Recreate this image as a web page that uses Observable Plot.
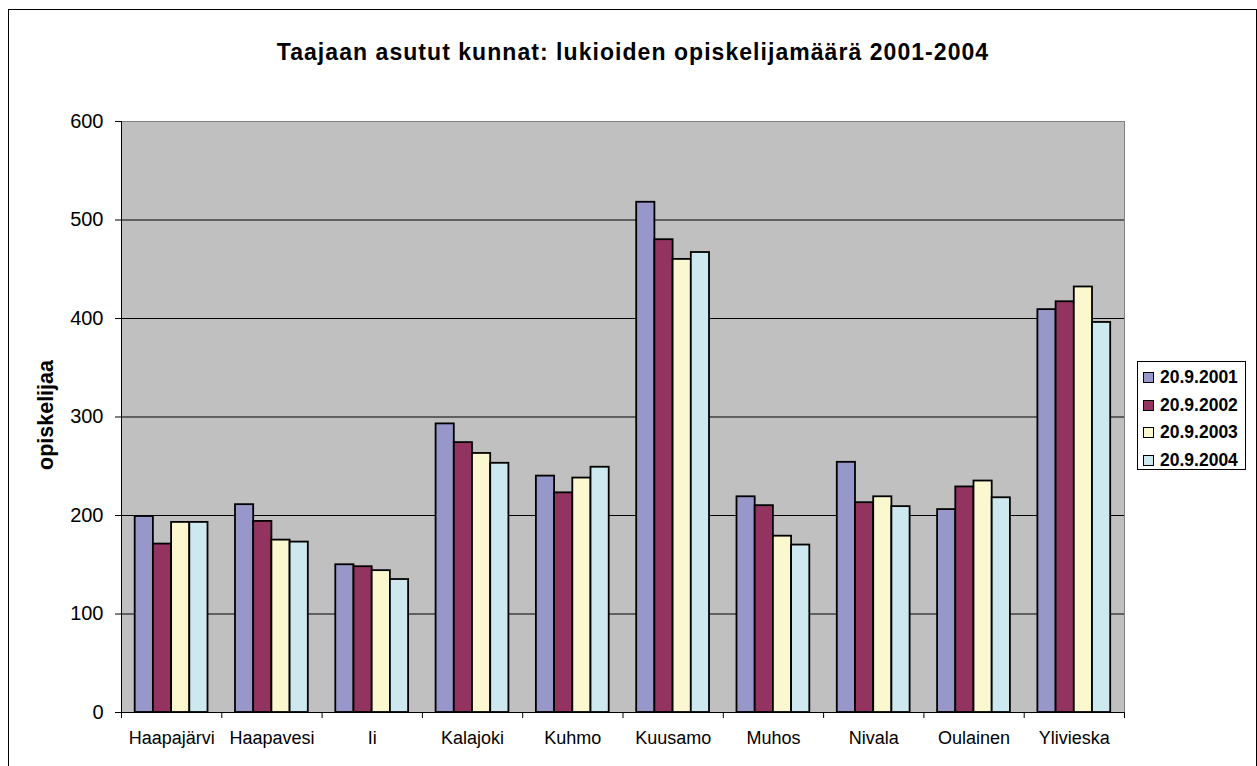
<!DOCTYPE html>
<html>
<head>
<meta charset="utf-8">
<script src="https://cdn.jsdelivr.net/npm/d3@7"></script>
<script src="https://cdn.jsdelivr.net/npm/@observablehq/plot@0.6"></script>
<style>
html, body { margin: 0; padding: 0; overflow: hidden; background: #fff; width: 1257px; height: 766px; }
body { font-family: "Liberation Sans", Arial, sans-serif; position: relative; }
#border { position: absolute; left: 8px; top: 9px; width: 1249px; height: 800px; border: 1px solid #000; box-sizing: border-box; }
#chart { position: absolute; left: 0; top: 0; }
#title { position: absolute; left: 0; width: 1266px; top: 41px; text-align: center; font-weight: bold; font-size: 23px; letter-spacing: 1.05px; line-height: 23px; color: #000; white-space: nowrap; }
#ylabel { position: absolute; left: 46px; top: 415px; transform: translate(-50%, -50%) rotate(-90deg); font-weight: bold; font-size: 21.5px; line-height: 21px; white-space: nowrap; }
#legend { position: absolute; left: 1137px; top: 361px; width: 109px; height: 109px; border: 1px solid #000; box-sizing: border-box; background: #fff; padding-top: 2px; }
.row { height: 27.5px; display: flex; align-items: center; padding-left: 5px; font-weight: bold; font-size: 17.5px; }
.sw { width: 9px; height: 9px; border: 1px solid #000; margin-right: 6px; flex: none; }
</style>
</head>
<body>
<div id="border"></div>
<div id="chart"></div>
<div id="title">Taajaan asutut kunnat: lukioiden opiskelijamäärä 2001-2004</div>
<div id="ylabel">opiskelijaa</div>
<div id="legend"></div>
<script>
const municipalities = ["Haapajärvi", "Haapavesi", "Ii", "Kalajoki", "Kuhmo", "Kuusamo", "Muhos", "Nivala", "Oulainen", "Ylivieska"];
const years = ["20.9.2001", "20.9.2002", "20.9.2003", "20.9.2004"];
const v2001 = [199, 211, 150, 293, 240, 518, 219, 254, 206, 409];
const v2002 = [171, 194, 148, 274, 223, 480, 210, 213, 229, 417];
const v2003 = [193, 175, 144, 263, 238, 460, 179, 219, 235, 432];
const v2004 = [193, 173, 135, 253, 249, 467, 170, 209, 218, 396];
const yTicks = [0, 100, 200, 300, 400, 500, 600];
const colors = ["#9797c9", "#933360", "#fbf8d0", "#cde8ee"];

const series = [v2001, v2002, v2003, v2004];
const rows = [];
series.forEach((vals, s) => vals.forEach((v, i) => rows.push({municipality: municipalities[i], idx: i, s, year: years[s], value: v})));

const groupOffset = 0.1365, barW = 0.1815;

const chart = Plot.plot({
  width: 1257,
  height: 766,
  marginLeft: 121,
  marginRight: 133,
  marginTop: 121,
  marginBottom: 54,
  style: {fontFamily: "Liberation Sans, Arial, sans-serif", background: "transparent", color: "#000"},
  x: {type: "linear", domain: [0, municipalities.length]},
  y: {domain: [0, 600]},
  color: {domain: years, range: colors},
  marks: [
    Plot.frame({fill: "#c0c0c0", stroke: "#808080"}),
    Plot.ruleY(yTicks.filter(t => t > 0 && t < 600), {stroke: "#000", strokeWidth: 1}),
    Plot.rectY(rows, {
      x1: d => d.idx + groupOffset + d.s * barW,
      x2: d => d.idx + groupOffset + (d.s + 1) * barW,
      y1: 0,
      y2: "value",
      fill: "year",
      stroke: "#000",
      strokeWidth: 1.8
    }),
    Plot.ruleX([0], {stroke: "#000"}),
    Plot.ruleY([0], {stroke: "#000"}),
    Plot.axisY({ticks: yTicks, tickSize: 6, tickPadding: 12, fontSize: 20, label: null, tickFormat: d => String(d)}),
    Plot.axisX({ticks: d3.range(0, municipalities.length + 1), tickSize: 6, tickFormat: () => "", label: null}),
    Plot.axisX({ticks: d3.range(municipalities.length).map(i => i + 0.5), tickSize: 0, tickPadding: 19, fontSize: 18, label: null, tickFormat: d => municipalities[Math.floor(d)]})
  ]
});
document.getElementById("chart").appendChild(chart);

const legend = document.getElementById("legend");
years.forEach((y, i) => {
  const r = document.createElement("div");
  r.className = "row";
  const sw = document.createElement("div");
  sw.className = "sw";
  sw.style.background = colors[i];
  r.appendChild(sw);
  r.appendChild(document.createTextNode(y));
  legend.appendChild(r);
});
</script>
</body>
</html>
